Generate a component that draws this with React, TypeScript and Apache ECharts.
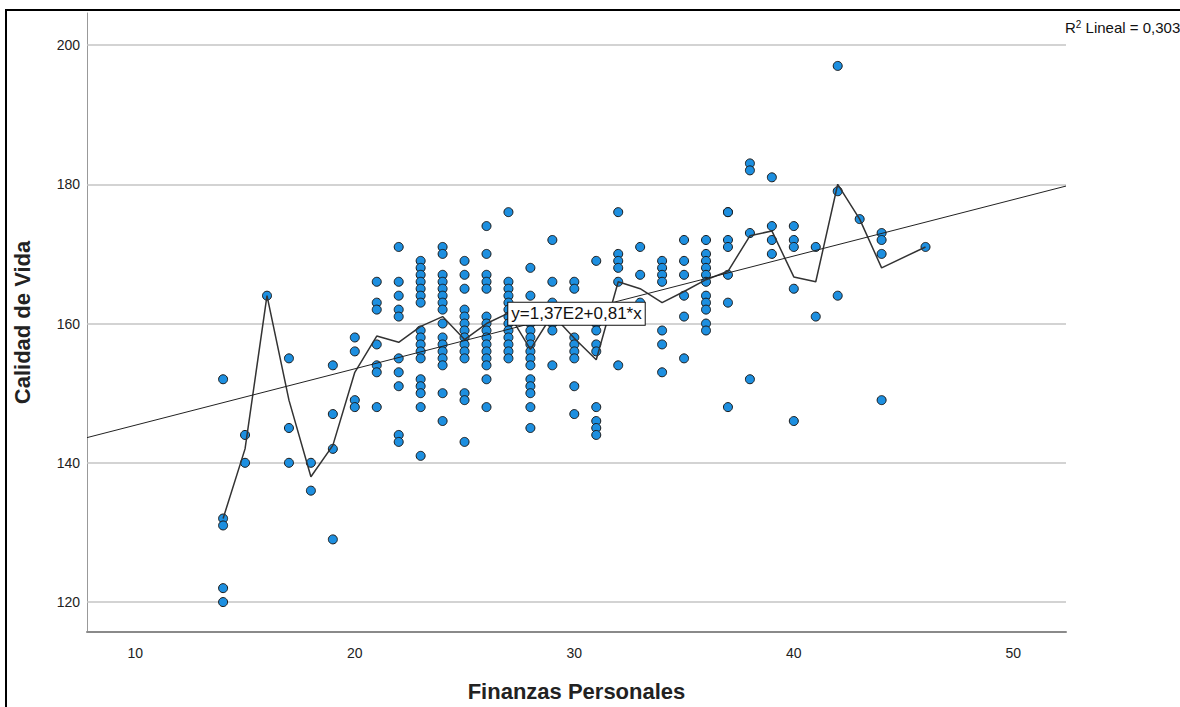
import React, { useEffect, useRef } from "react";
import * as echarts from "echarts";

// Finanzas Personales (x) values and the Calidad de Vida (y) values observed at each
const finanzas = [14, 15, 16, 17, 18, 19, 20, 21, 22, 23, 24, 25, 26, 27, 28, 29, 30, 31, 32, 33, 34, 35, 36, 37, 38, 39, 40, 41, 42, 43, 44, 46];

const calidad: number[][] = [
  [152, 132, 131, 122, 120],
  [144, 140],
  [164],
  [155, 145, 140],
  [140, 136],
  [154, 147, 142, 129],
  [158, 156, 149, 148],
  [166, 163, 162, 157, 154, 153, 148],
  [171, 166, 164, 162, 161, 155, 153, 151, 144, 143],
  [169, 168, 167, 166, 165, 164, 163, 159, 158, 157, 156, 155, 152, 151, 150, 148, 141],
  [171, 170, 167, 166, 165, 164, 163, 162, 160, 158, 157, 156, 155, 154, 150, 146],
  [169, 167, 165, 162, 161, 160, 159, 158, 157, 156, 155, 150, 149, 143],
  [174, 170, 167, 166, 165, 161, 160, 159, 158, 157, 156, 155, 154, 152, 148],
  [176, 166, 165, 164, 163, 162, 161, 160, 159, 158, 157, 156, 155],
  [168, 164, 162, 161, 160, 159, 158, 157, 156, 155, 154, 152, 151, 150, 148, 145],
  [172, 166, 163, 160, 159, 154],
  [166, 165, 161, 158, 157, 156, 155, 151, 147],
  [169, 162, 160, 159, 157, 156, 148, 146, 145, 144],
  [176, 170, 169, 168, 166, 162, 154],
  [171, 167, 163, 162],
  [169, 168, 167, 166, 159, 157, 153],
  [172, 169, 167, 164, 161, 155],
  [172, 170, 169, 168, 167, 166, 164, 163, 162, 160, 159],
  [176, 176, 172, 171, 167, 163, 148],
  [183, 182, 173, 152],
  [181, 174, 172, 170],
  [174, 172, 171, 165, 146],
  [171, 161],
  [197, 179, 164],
  [175],
  [173, 172, 170, 149],
  [171],
];

// Subgroup line (value read at each Finanzas value)
const lineaSubgrupos = [132, 142, 164, 149, 138, 142.5, 153, 158.2, 157.3, 159.6, 161, 157.7, 160, 161.5, 156.3, 161.3, 157.9, 154.8, 166, 165, 163, 164.6, 166.3, 167.5, 172.6, 173.3, 166.7, 166, 180, 175, 168, 171];

// Linear fit: y = 1,37E2 + 0,81*x ; R² = 0,303
const fitIntercept = 137.3;
const fitSlope = 0.81;
const fitLabel = "y=1,37E2+0,81*x";
const r2Label = "0,303";

// Axis ranges and ticks
const xRange = [7.8, 52.4];
const yRange = [115.7, 204.6];
const xTicks = [10, 20, 30, 40, 50];
const yTicks = [120, 140, 160, 180, 200];

const FONT = "'Liberation Sans', Arial, sans-serif";

export default function App() {
  const ref = useRef<HTMLDivElement>(null);

  useEffect(() => {
    if (!ref.current) return;
    const chart = echarts.init(ref.current, undefined, { renderer: "svg" });

    const points: number[][] = [];
    finanzas.forEach((x, i) => {
      calidad[i].forEach((y) => points.push([x, y]));
    });
    const subLine = finanzas.map((x, i) => [x, lineaSubgrupos[i]]);
    const fit = [
      [xRange[0], fitIntercept + fitSlope * xRange[0]],
      [xRange[1], fitIntercept + fitSlope * xRange[1]],
    ];

    chart.setOption({
      animation: false,
      backgroundColor: "#fff",
      textStyle: { fontFamily: FONT },
      grid: { left: 87, top: 13, right: 114, bottom: 72, containLabel: false },
      xAxis: {
        type: "value",
        min: xRange[0],
        max: xRange[1],
        name: "Finanzas Personales",
        nameLocation: "middle",
        nameGap: 48,
        nameTextStyle: { fontFamily: FONT, fontSize: 22, fontWeight: "bold", color: "#222" },
        axisLine: { show: true, onZero: false, lineStyle: { color: "#8a8a8a", width: 2 } },
        axisTick: { show: false },
        splitLine: { show: false },
        axisLabel: {
          customValues: xTicks,
          formatter: (v: number) => (xTicks.includes(v) ? String(v) : ""),
          fontFamily: FONT,
          fontSize: 14,
          color: "#222",
          margin: 14,
        },
      },
      yAxis: {
        type: "value",
        min: yRange[0],
        max: yRange[1],
        name: "Calidad de Vida",
        nameLocation: "middle",
        nameRotate: 90,
        nameGap: 54,
        nameTextStyle: { fontFamily: FONT, fontSize: 22, fontWeight: "bold", color: "#222" },
        axisLine: { show: true, onZero: false, lineStyle: { color: "#999", width: 1 } },
        axisTick: { show: false },
        splitLine: { show: false },
        axisLabel: {
          customValues: yTicks,
          formatter: (v: number) => (yTicks.includes(v) ? String(v) : ""),
          fontFamily: FONT,
          fontSize: 14,
          color: "#222",
          margin: 7,
        },
      },
      series: [
        {
          type: "scatter",
          data: points,
          symbol: "circle",
          symbolSize: 9,
          z: 3,
          itemStyle: { color: "#1d8fe0", borderColor: "#1a1a1a", borderWidth: 1, opacity: 1 },
          markLine: {
            silent: true,
            symbol: ["none", "none"],
            label: { show: false },
            lineStyle: { color: "#c4c4c4", width: 1.5, type: "solid" },
            data: yTicks.map((v) => ({ yAxis: v })),
            z: 1,
          },
        },
        {
          type: "line",
          data: subLine,
          symbol: "none",
          z: 4,
          lineStyle: { color: "#333", width: 1.5 },
        },
        {
          type: "line",
          data: fit,
          symbol: "none",
          z: 4,
          lineStyle: { color: "#222", width: 1 },
          markPoint: {
            symbol: "rect",
            symbolSize: 0,
            z: 6,
            data: [{ coord: [30.1, 161.4], value: fitLabel }],
            label: {
              show: true,
              position: "inside",
              formatter: fitLabel,
              fontFamily: FONT,
              fontSize: 17,
              color: "#111",
              backgroundColor: "#fff",
              borderColor: "#111",
              borderWidth: 1,
              padding: [3, 3, 2, 3],
            },
          },
        },
      ],
      graphic: [
        {
          type: "line",
          shape: { x1: 5, y1: 10, x2: 1180, y2: 10 },
          style: { stroke: "#000", lineWidth: 2 },
        },
        {
          type: "line",
          shape: { x1: 6, y1: 10, x2: 6, y2: 707 },
          style: { stroke: "#000", lineWidth: 2 },
        },
        {
          type: "text",
          x: 1065,
          y: 19,
          style: {
            text: "{b|R}{sup|2}{b| Lineal = " + r2Label + "}",
            rich: {
              b: { fontFamily: FONT, fontSize: 15, fill: "#111", color: "#111" },
              sup: { fontFamily: FONT, fontSize: 10, fill: "#111", color: "#111", verticalAlign: "top", padding: [0, 0, 6, 0] },
            },
            fontFamily: FONT,
            fontSize: 15,
            fill: "#111",
          },
        },
      ],
    });

    return () => chart.dispose();
  }, []);

  return (
    <div
      ref={ref}
      style={{ position: "absolute", left: 0, top: 0, width: 1180, height: 707, background: "#fff" }}
    />
  );
}
